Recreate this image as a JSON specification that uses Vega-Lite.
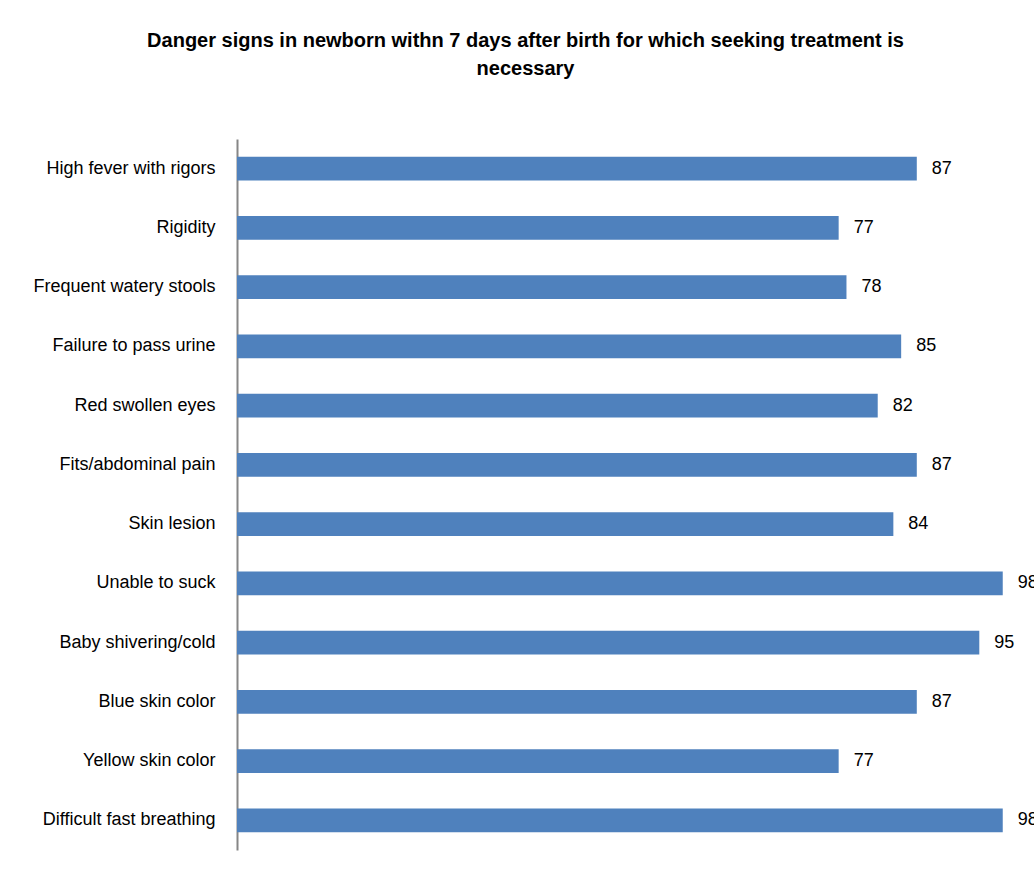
{
  "$schema": "https://vega.github.io/schema/vega-lite/v6.json",
  "autosize": "none",
  "width": 797,
  "height": 711,
  "padding": {"left": 237, "top": 139, "right": 0, "bottom": 23},
  "background": "white",
  "config": {"view": {"stroke": null}, "font": "Liberation Sans"},
  "title": {
    "text": ["Danger signs in newborn withn 7 days after birth for which seeking treatment is", "necessary"],
    "fontSize": 20,
    "fontWeight": "bold",
    "font": "Liberation Sans",
    "color": "black",
    "anchor": "middle",
    "dx": -110,
    "offset": 60,
    "lineHeight": 28
  },
  "data": {
    "values": [
      {"sign": "High fever with rigors", "pct": 87},
      {"sign": "Rigidity", "pct": 77},
      {"sign": "Frequent watery stools", "pct": 78},
      {"sign": "Failure to pass urine", "pct": 85},
      {"sign": "Red swollen eyes", "pct": 82},
      {"sign": "Fits/abdominal pain", "pct": 87},
      {"sign": "Skin lesion", "pct": 84},
      {"sign": "Unable to suck", "pct": 98},
      {"sign": "Baby shivering/cold", "pct": 95},
      {"sign": "Blue skin color", "pct": 87},
      {"sign": "Yellow skin color", "pct": 77},
      {"sign": "Difficult fast breathing", "pct": 98}
    ]
  },
  "encoding": {
    "y": {
      "field": "sign",
      "type": "nominal",
      "sort": null,
      "scale": {"paddingInner": 0.595, "paddingOuter": 0.2975},
      "axis": {
        "title": null,
        "ticks": false,
        "domainColor": "#868686",
        "domainWidth": 2,
        "labelFontSize": 18,
        "labelColor": "black",
        "labelFont": "Liberation Sans",
        "labelPadding": 22,
        "labelLimit": 300
      }
    },
    "x": {
      "field": "pct",
      "type": "quantitative",
      "scale": {"domain": [0, 102], "nice": false},
      "axis": null
    }
  },
  "layer": [
    {"mark": {"type": "bar", "color": "#4F81BD"}},
    {
      "mark": {"type": "text", "align": "left", "dx": 15, "fontSize": 18, "color": "black", "font": "Liberation Sans"},
      "encoding": {"text": {"field": "pct", "type": "quantitative"}}
    }
  ]
}
